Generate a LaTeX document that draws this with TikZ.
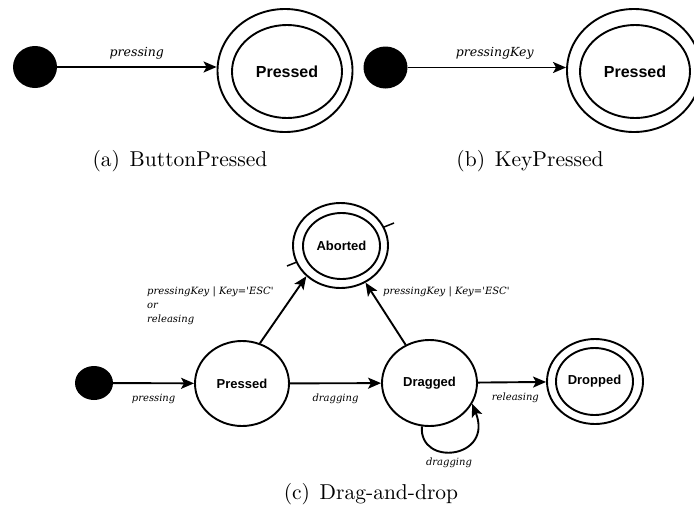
\documentclass[tikz,border=0pt]{standalone}
\usepackage{fontspec}
\usetikzlibrary{shapes.geometric,arrows.meta}
\newfontfamily\lblfont{DejaVu Serif}
\newfontfamily\nodefont{Liberation Sans}
\newfontfamily\capfont{lmroman10-regular.otf}
\begin{document}
\begin{tikzpicture}[x=1pt,y=-1pt,
  st/.style={draw,line width=1.9pt,ellipse,inner sep=0pt,fill=white,
    font=\nodefont\bfseries\fontsize{16}{18}\selectfont},
  stc/.style={st,font=\nodefont\bfseries\fontsize{13}{15}\selectfont},
  init/.style={fill=black,ellipse,inner sep=0pt},
  arr/.style={line width=1.9pt,-{Stealth[length=13pt,width=11pt,inset=3pt]}},
  lbl/.style={font=\lblfont\itshape\fontsize{12.5}{14}\selectfont,inner sep=1pt},
  lblc/.style={font=\lblfont\itshape\fontsize{10}{14}\selectfont,inner sep=1pt},
  captxt/.style={font=\capfont\fontsize{21.5}{25}\selectfont,anchor=base,inner sep=0pt}]
\useasboundingbox (0,0) rectangle (694,512);
% ---------- (a)
\node[init,minimum width=44,minimum height=42] (ia) at (35,67) {};
\node[st,minimum width=135,minimum height=123] (pa) at (285,70.5) {};
\node[st,minimum width=110,minimum height=93] (pai) at (287,71.5) {Pressed};
\draw[arr] (ia) -- (pa.west |- ia) node[lbl,midway,above=6pt] (la) {pressing};
\node[captxt] (ca) at (180,166) {(a)\hspace{0.45em}ButtonPressed};
% ---------- (b)
\node[init,minimum width=44,minimum height=42] (ib) at (385.5,67.5) {};
\node[st,minimum width=134,minimum height=123] (pb) at (634,70.5) {};
\node[st,minimum width=110,minimum height=93] (pbi) at (635,71.5) {Pressed};
\draw[arr] (ib) -- (pb.west |- ib) node[lbl,pos=0.55,above=6pt] (lb) {pressingKey};
\node[captxt] (cb) at (530,166) {(b)\hspace{0.45em}KeyPressed};
% ---------- (c)
\coordinate (s1) at (287,266);
\coordinate (s2) at (394,223);
\draw[line width=1.5pt] (s1) -- (s2);
\node[st,minimum width=95,minimum height=85] (ab) at (340.5,245.5) {};
\node[stc,minimum width=77,minimum height=66] (abi) at (341.5,246) {Aborted};
\node[init,minimum width=38,minimum height=34] (ic) at (94,383) {};
\node[stc,minimum width=94,minimum height=85] (pc) at (242,383.5) {Pressed};
\node[stc,minimum width=95,minimum height=86] (dg) at (429.5,383) {Dragged};
\node[st,minimum width=96,minimum height=85] (dp) at (595,381.5) {};
\node[stc,minimum width=77,minimum height=67] (dpi) at (594.5,381.5) {Dropped};
\draw[arr] (ic) -- (pc) node[lblc,midway,below=9pt] (lc1) {pressing};
\draw[arr] (pc) -- (dg) node[lblc,midway,below=9pt] (lc2) {dragging};
\draw[arr] (dg) -- (dp) node[lblc,pos=0.55,below=9pt] (lc3) {releasing};
\draw[arr] (pc.66) -- (ab.-138);
\draw[arr] (dg.122) -- (ab.-56);
\draw[arr] (dg.-100) .. controls +(-3,41) and +(22,55) .. (dg.-26);
\node[lblc] (lc4) at (449,463) {dragging};
\node[lblc,align=left,anchor=west] (lc5) at (146,306) {pressingKey | Key='ESC'\\or\\releasing};
\node[lblc,anchor=west] (lc6) at (382,292) {pressingKey | Key='ESC'};
\node[captxt] (cc) at (371,499) {(c)\hspace{0.45em}Drag-and-drop};
\end{tikzpicture}
\end{document}
